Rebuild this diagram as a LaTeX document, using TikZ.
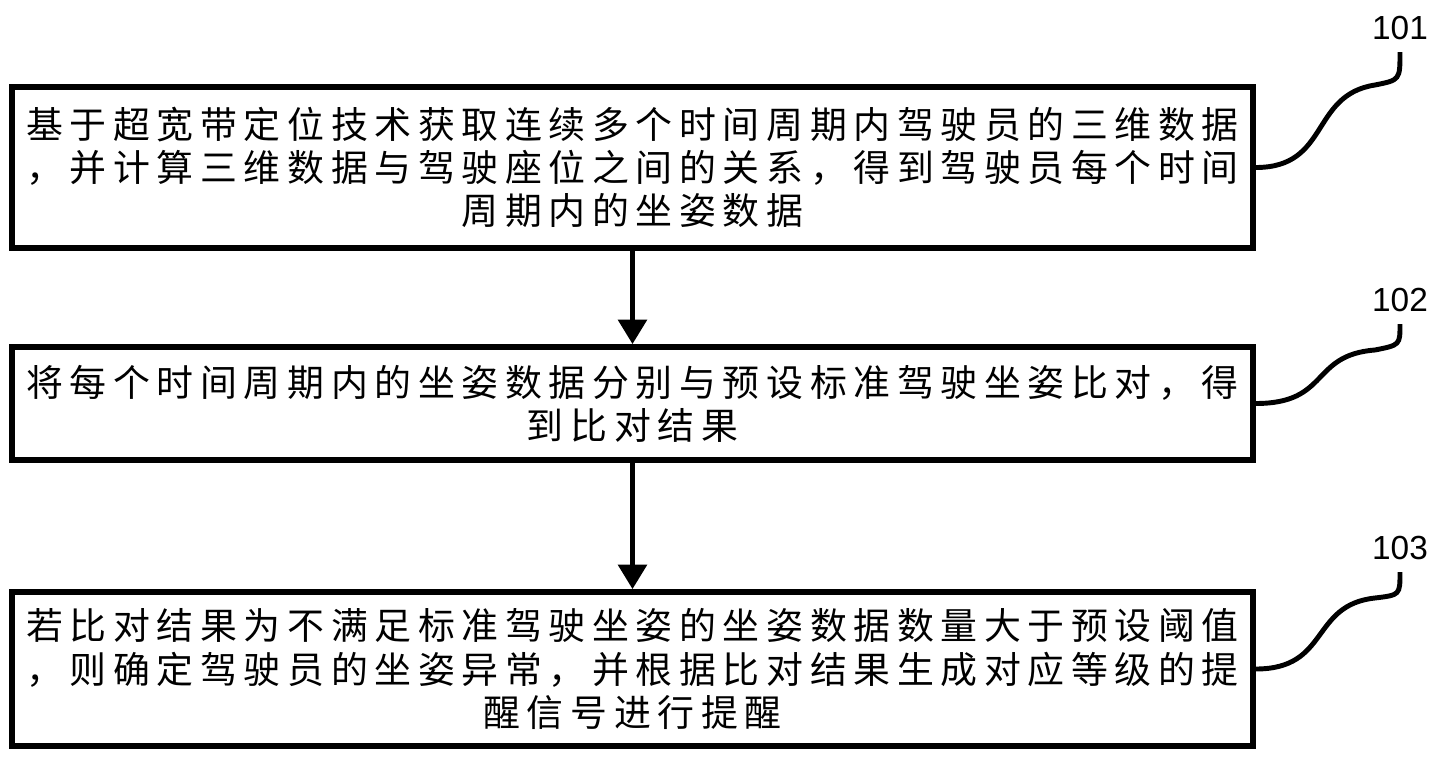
\documentclass[tikz,border=0pt]{standalone}
\usepackage{fontspec}
\newfontfamily\cjk[LetterSpace=18]{Noto Sans CJK SC}
\setmainfont{Liberation Sans}
\usetikzlibrary{arrows.meta}
\tikzset{
    stage/.style={draw, line width=1.6pt, minimum width=12.41cm, align=center,
        font=\cjk\fontsize{10.5}{12.3}\selectfont},
    flow/.style={-{Triangle[length=7pt,width=8pt]}, line width=1.6pt},
    tag/.style={font=\fontsize{9.5}{11}\selectfont},
    wave/.style={line width=1.4pt}
}
\begin{document}
\begin{tikzpicture}
            \useasboundingbox (0,0) rectangle (14.4,-7.62);
            \node[stage, minimum height=1.61cm] (s1) at (6.325,-1.675)
                {基于超宽带定位技术获取连续多个时间周期内驾驶员的三维数据\\
                ，并计算三维数据与驾驶座位之间的关系，得到驾驶员每个时间\\
                周期内的坐姿数据};
            \node[stage, minimum height=1.13cm] (s2) at (6.325,-4.035)
                {将每个时间周期内的坐姿数据分别与预设标准驾驶坐姿比对，得\\
                到比对结果};
            \node[stage, minimum height=1.54cm] (s3) at (6.325,-6.69)
                {若比对结果为不满足标准驾驶坐姿的坐姿数据数量大于预设阈值\\
                ，则确定驾驶员的坐姿异常，并根据比对结果生成对应等级的提\\
                醒信号进行提醒};

            \draw[flow] (s1) -- (s2);
            \draw[flow] (s2) -- (s3);

            \node[tag] (t1) at (14.0,-0.28) {101};
            \node[tag] (t2) at (14.0,-3.0) {102};
            \node[tag] (t3) at (14.0,-5.48) {103};

            \draw[wave] (s1.east) .. controls (13.3,-1.675) and (13.1,-0.95) .. (13.75,-0.85)
                .. controls (14.0,-0.8) .. (t1.south);
            \draw[wave] (s2.east) .. controls (13.3,-4.035) and (13.1,-3.55) .. (13.75,-3.5)
                .. controls (14.0,-3.45) .. (t2.south);
            \draw[wave] (s3.east) .. controls (13.3,-6.69) and (13.1,-6.05) .. (13.75,-5.98)
                .. controls (14.0,-5.95) .. (t3.south);
\end{tikzpicture}
\end{document}
